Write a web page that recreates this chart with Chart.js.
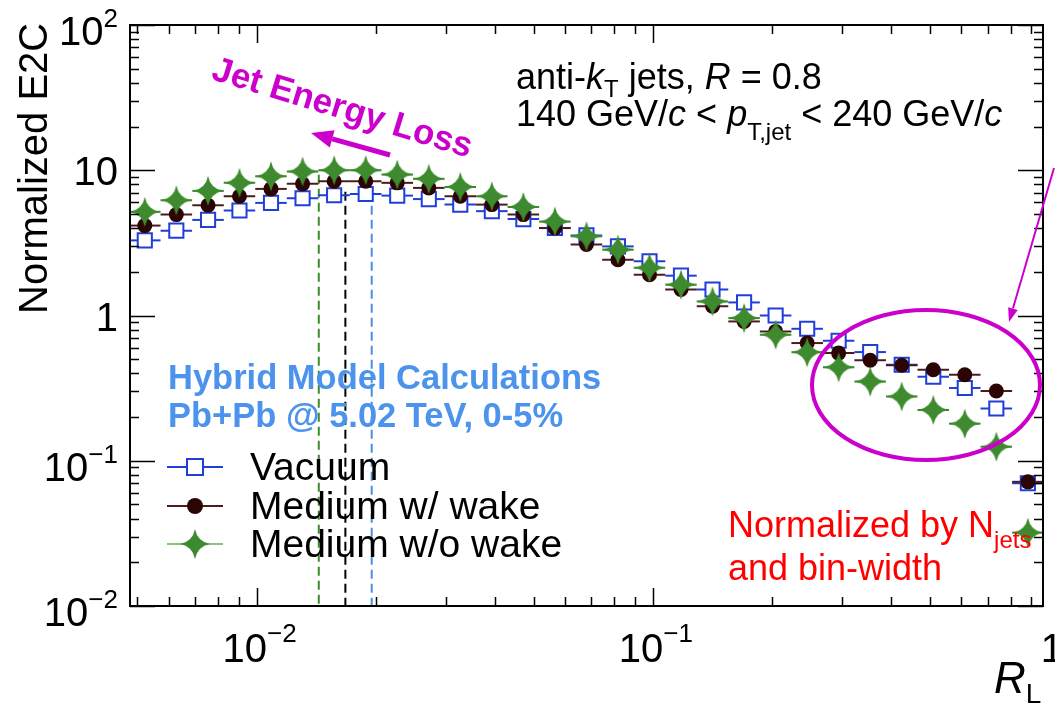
<!DOCTYPE html>
<html>
<head>
<meta charset="utf-8">
<script src="https://cdn.jsdelivr.net/npm/chart.js@4.4.0/dist/chart.umd.min.js"></script>
<style>
  html, body { margin: 0; padding: 0; background: #fff; }
  #wrap { width: 1055px; height: 706px; position: relative; }
</style>
</head>
<body>
<div id="wrap"><canvas id="c"></canvas></div>
<script>
// ===== Normalized E2C vs R_L, hybrid model =====
const rL = [0.00522, 0.00627, 0.00754, 0.00905, 0.01087, 0.01306, 0.01569, 0.01885, 0.02264, 0.0272,
            0.03266, 0.03924, 0.04713, 0.05661, 0.068, 0.08166, 0.0981, 0.1178, 0.1415, 0.17,
            0.2042, 0.2453, 0.2945, 0.3538, 0.425, 0.5105, 0.6131, 0.7365, 0.8847];
const vacuum = [3.29, 3.84, 4.55, 5.28, 5.96, 6.41, 6.73, 6.86, 6.69, 6.33,
                5.80, 5.23, 4.61, 4.0, 3.56, 2.99, 2.36, 1.88, 1.51, 1.23,
                1.0, 0.81, 0.67, 0.56, 0.458, 0.379, 0.317, 0.229, 0.070];
const wake = [4.16, 4.95, 5.74, 6.62, 7.44, 8.06, 8.40, 8.40, 8.19, 7.56,
              6.62, 5.80, 4.95, 4.0, 3.08, 2.42, 1.91, 1.51, 1.16, 0.91,
              0.777, 0.646, 0.551, 0.492, 0.454, 0.423, 0.391, 0.302, 0.0716];
const noWake = [5.17, 6.21, 7.21, 8.19, 9.09, 9.80, 10.0, 10.0, 9.34, 8.73,
                7.68, 6.62, 5.59, 4.43, 3.51, 2.84, 2.13, 1.63, 1.25, 0.96,
                0.738, 0.559, 0.44, 0.351, 0.277, 0.224, 0.18, 0.125, 0.032];
// peak positions (dashed lines): w/o wake, w/ wake, vacuum
const peakR = [0.01435, 0.01675, 0.01952];
const peakTop = [9.3, 7.1, 5.7];
const peakColors = ['#3d8b2e', '#000000', '#4a90e2'];
const xTicks = [0.01, 0.1, 1];
const xTickLabels = [['10', '\u22122'], ['10', '\u22121'], ['1', '']];
const yTicks = [0.01, 0.1, 1, 10, 100];
const yTickLabels = [['10', '\u22122'], ['10', '\u22121'], ['1', ''], ['10', ''], ['10', '2']];
const halfBinLog = 0.0398;

const BLUE = '#1f3fd8', BROWN = '#2b0404', BROWN_LINE = '#4a1c1c', GREEN = '#3d8b2e', MAG = '#cc00cc';
const F = '"Liberation Sans", Arial, Helvetica, sans-serif';

// 4-point star marker
function starSprite(R) {
    const s = document.createElement('canvas');
    s.width = s.height = 2 * R + 2;
    const g = s.getContext('2d');
    const c = R + 1, k = 0.16 * R;
    g.fillStyle = GREEN;
    g.beginPath();
    g.moveTo(c, c - R);
    g.quadraticCurveTo(c + k, c - k, c + R, c);
    g.quadraticCurveTo(c + k, c + k, c, c + R);
    g.quadraticCurveTo(c - k, c + k, c - R, c);
    g.quadraticCurveTo(c - k, c - k, c, c - R);
    g.fill();
    return s;
}
const star = starSprite(15);

function rich(ctx, x, y, parts, align) {
    let w = 0;
    parts.forEach(p => { ctx.font = p[1]; w += ctx.measureText(p[0]).width; });
    let cx = align === 'right' ? x - w : align === 'center' ? x - w / 2 : x;
    ctx.textAlign = 'left';
    parts.forEach(p => { ctx.font = p[1]; ctx.fillText(p[0], cx, y + (p[2] || 0)); cx += ctx.measureText(p[0]).width; });
    return w;
}

function arrow(ctx, x0, y0, x1, y1, lw, hl, hw, col) {
    const a = Math.atan2(y1 - y0, x1 - x0);
    const bx = x1 - hl * Math.cos(a), by = y1 - hl * Math.sin(a);
    ctx.strokeStyle = col; ctx.fillStyle = col; ctx.lineWidth = lw;
    ctx.beginPath(); ctx.moveTo(x0, y0); ctx.lineTo(bx, by); ctx.stroke();
    ctx.beginPath();
    ctx.moveTo(x1, y1);
    ctx.lineTo(bx + hw * Math.sin(a), by - hw * Math.cos(a));
    ctx.lineTo(bx - hw * Math.sin(a), by + hw * Math.cos(a));
    ctx.closePath(); ctx.fill();
}

const overlay = {
    id: 'overlay',
    beforeDatasetsDraw(chart) {
        const ctx = chart.ctx, xs = chart.scales.x, ys = chart.scales.y, a = chart.chartArea;
        ctx.save();
        // dashed peak lines
        ctx.lineWidth = 2;
        ctx.setLineDash([9, 5]);
        peakR.forEach((r, i) => {
            const px = xs.getPixelForValue(r);
            ctx.strokeStyle = peakColors[i];
            ctx.beginPath(); ctx.moveTo(px, ys.getPixelForValue(peakTop[i])); ctx.lineTo(px, a.bottom); ctx.stroke();
        });
        ctx.setLineDash([]);
        // horizontal bin-width bars
        const f = Math.pow(10, halfBinLog);
        [[vacuum, BLUE, 2], [wake, BROWN_LINE, 2], [noWake, GREEN, 2]].forEach(([vals, col, lw]) => {
            ctx.strokeStyle = col; ctx.lineWidth = lw;
            vals.forEach((v, i) => {
                const y = ys.getPixelForValue(v);
                ctx.beginPath();
                ctx.moveTo(xs.getPixelForValue(rL[i] / f), y);
                ctx.lineTo(Math.min(xs.getPixelForValue(rL[i] * f), a.right), y);
                ctx.stroke();
            });
        });
        ctx.restore();
    },
    afterDraw(chart) {
        const ctx = chart.ctx, xs = chart.scales.x, ys = chart.scales.y, a = chart.chartArea;
        ctx.save();
        // frame
        ctx.strokeStyle = '#000'; ctx.lineWidth = 2;
        ctx.strokeRect(a.left, a.top, a.right - a.left, a.bottom - a.top);
        ctx.lineWidth = 1.5;
        ctx.beginPath();
        for (let d = -3; d <= 0; d++) {
            for (let k = 1; k <= 9; k++) {
                const v = k * Math.pow(10, d);
                if (v < xs.min || v > xs.max) continue;
                const px = Math.round(xs.getPixelForValue(v)) + 0.5, L = k === 1 ? 18 : 9;
                ctx.moveTo(px, a.bottom); ctx.lineTo(px, a.bottom - L);
                ctx.moveTo(px, a.top); ctx.lineTo(px, a.top + L);
            }
        }
        for (let d = -2; d <= 2; d++) {
            for (let k = 1; k <= 9; k++) {
                const v = k * Math.pow(10, d);
                if (v < ys.min || v > ys.max) continue;
                const py = Math.round(ys.getPixelForValue(v)) + 0.5, L = k === 1 ? 25 : 9;
                ctx.moveTo(a.left, py); ctx.lineTo(a.left + L, py);
                ctx.moveTo(a.right, py); ctx.lineTo(a.right - L, py);
            }
        }
        ctx.stroke();

        // tick labels
        ctx.fillStyle = '#000';
        const big = '40px ' + F, sup = '26px ' + F;
        yTicks.forEach((v, i) => {
            const py = ys.getPixelForValue(v), [b, e] = yTickLabels[i];
            const off = e ? 5 : 0;
            rich(ctx, 118, py + 15 + off, e ? [[b, big], [e, sup, -18]] : [[b, big]], 'right');
        });
        xTicks.forEach((v, i) => {
            const px = xs.getPixelForValue(v), [b, e] = xTickLabels[i];
            rich(ctx, px + 3, 662, e ? [[b, big], [e, sup, -20]] : [[b, big]], 'center');
        });

        // axis titles
        ctx.save();
        ctx.translate(47, 314); ctx.rotate(-Math.PI / 2);
        ctx.font = '40px ' + F; ctx.textAlign = 'left';
        ctx.fillText('Normalized E2C', 0, 0);
        ctx.restore();
        rich(ctx, 994, 693, [['R', 'italic 44px ' + F], ['L', '28px ' + F, 10]], 'left');

        // header text
        const t = '36px ' + F, ti = 'italic 36px ' + F, ts = '24px ' + F;
        rich(ctx, 516, 89, [['anti-', t], ['k', ti], ['T', ts, 8], [' jets, ', t], ['R', ti], [' = 0.8', t]], 'left');
        rich(ctx, 516, 126, [['140 GeV/', t], ['c', ti], [' < ', t], ['p', ti], ['T,jet', ts, 14], [' < 240 GeV/', t], ['c', ti]], 'left');

        // model label
        ctx.fillStyle = '#4b93ec';
        ctx.font = 'bold 34.5px ' + F; ctx.textAlign = 'left';
        ctx.fillText('Hybrid Model Calculations', 168, 389);
        ctx.fillText('Pb+Pb @ 5.02 TeV, 0-5%', 168, 427);

        // normalisation note
        ctx.fillStyle = '#ff0000';
        rich(ctx, 728, 537, [['Normalized by N', '36px ' + F], ['jets', '24px ' + F, 11]], 'left');
        ctx.font = '36px ' + F;
        ctx.fillText('and bin-width', 728, 580);

        // legend
        const rows = [467, 506, 544];
        ctx.lineWidth = 2;
        ctx.strokeStyle = BLUE;
        ctx.beginPath(); ctx.moveTo(167, rows[0]); ctx.lineTo(223, rows[0]); ctx.stroke();
        ctx.fillStyle = '#fff'; ctx.fillRect(187, rows[0] - 8, 16, 16); ctx.strokeRect(187, rows[0] - 8, 16, 16);
        ctx.strokeStyle = BROWN_LINE;
        ctx.beginPath(); ctx.moveTo(167, rows[1]); ctx.lineTo(223, rows[1]); ctx.stroke();
        ctx.fillStyle = BROWN; ctx.beginPath(); ctx.arc(195, rows[1], 8, 0, 2 * Math.PI); ctx.fill();
        ctx.strokeStyle = '#8cc47e';
        ctx.beginPath(); ctx.moveTo(167, rows[2]); ctx.lineTo(223, rows[2]); ctx.stroke();
        ctx.drawImage(star, 195 - star.width / 2, rows[2] - star.height / 2);
        ctx.fillStyle = '#000'; ctx.font = '39px ' + F;
        ['Vacuum', 'Medium w/ wake', 'Medium w/o wake'].forEach((s, i) => ctx.fillText(s, 250, rows[i] + 13));

        // jet energy loss annotation
        ctx.save();
        ctx.translate(342, 109); ctx.rotate(17 * Math.PI / 180);
        ctx.fillStyle = MAG; ctx.font = 'bold 35px ' + F; ctx.textAlign = 'center'; ctx.textBaseline = 'middle';
        ctx.fillText('Jet Energy Loss', 0, 0);
        ctx.restore();
        arrow(ctx, 390, 155, 311, 133, 5, 22, 9, MAG);

        // ellipse and pointer
        ctx.strokeStyle = MAG; ctx.lineWidth = 4;
        ctx.beginPath(); ctx.ellipse(926, 385, 114, 75, 0, 0, 2 * Math.PI); ctx.stroke();
        arrow(ctx, 1054, 168, 1009, 322, 2, 14, 5, MAG);
        ctx.restore();
    }
};

const pts = vals => rL.map((x, i) => ({ x, y: vals[i] }));

new Chart(document.getElementById('c'), {
    type: 'scatter',
    data: {
        datasets: [
            { label: 'Vacuum', data: pts(vacuum), pointStyle: 'rect', pointRadius: 10, borderWidth: 2,
              borderColor: BLUE, backgroundColor: '#fff', order: 3 },
            { label: 'Medium w/ wake', data: pts(wake), pointStyle: 'circle', pointRadius: 7.5, borderWidth: 0,
              borderColor: BROWN, backgroundColor: BROWN, order: 2 },
            { label: 'Medium w/o wake', data: pts(noWake), pointStyle: star, order: 1 }
        ]
    },
    options: {
        responsive: true, maintainAspectRatio: false, animation: false, events: [],
        layout: { padding: { left: 130, top: 25, right: 10, bottom: 100 } },
        scales: {
            x: { type: 'logarithmic', min: 0.00479, max: 0.966, display: false },
            y: { type: 'logarithmic', min: 0.01, max: 100, display: false }
        },
        plugins: { legend: { display: false }, tooltip: { enabled: false } }
    },
    plugins: [overlay]
});
</script>
</body>
</html>
